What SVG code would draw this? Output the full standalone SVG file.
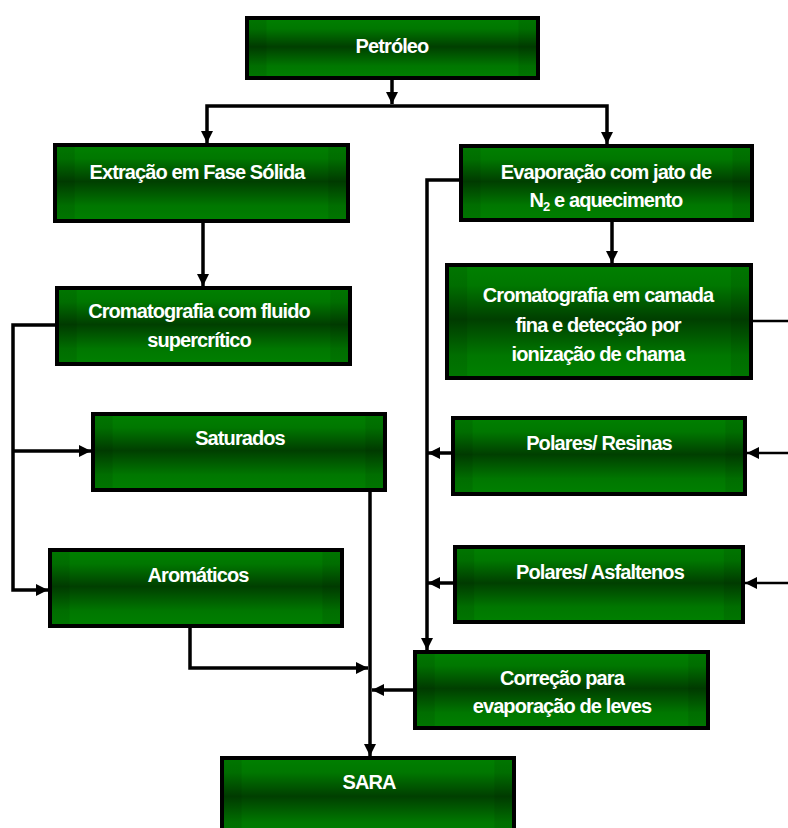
<svg xmlns="http://www.w3.org/2000/svg" width="788" height="828" viewBox="0 0 788 828">
<defs>
<linearGradient id="gv" x1="0" y1="0" x2="0" y2="1">
<stop offset="0" stop-color="#008000"/>
<stop offset="0.18" stop-color="#007700"/>
<stop offset="0.48" stop-color="#003f00"/>
<stop offset="0.8" stop-color="#007700"/>
<stop offset="1" stop-color="#008000"/>
</linearGradient>
<linearGradient id="gh" x1="0" y1="0" x2="1" y2="0">
<stop offset="0" stop-color="#000" stop-opacity="0.08"/>
<stop offset="0.06" stop-color="#000" stop-opacity="0.08"/>
<stop offset="0.062" stop-color="#000" stop-opacity="0"/>
<stop offset="0.938" stop-color="#000" stop-opacity="0"/>
<stop offset="0.94" stop-color="#000" stop-opacity="0.08"/>
<stop offset="1" stop-color="#000" stop-opacity="0.08"/>
</linearGradient>
<marker id="ah" viewBox="0 0 12 12" refX="12" refY="6" markerWidth="12" markerHeight="12" markerUnits="userSpaceOnUse" orient="auto">
<path d="M0,0 L12,6 L0,12 z" fill="#000"/>
</marker>
</defs>
<style>
.box{fill:url(#gv);stroke:#000;stroke-width:4}
.sh{fill:url(#gh);stroke:none}
.t{fill:#fff;font-family:"Liberation Sans",Arial,sans-serif;font-weight:bold;font-size:20px;letter-spacing:-0.9px;text-anchor:middle}
.c{fill:none;stroke:#000;stroke-width:3.5}
.cr{fill:none;stroke:#000;stroke-width:2.5}
.a{marker-end:url(#ah)}
</style>
<rect width="788" height="828" fill="#fff"/>

<g id="connectors">
<path class="c a" d="M392,80 V104"/>
<path class="c a" d="M392,106 H207 V143"/>
<path class="c a" d="M392,106 H607 V144"/>
<path class="c a" d="M203,223 V286"/>
<path class="c a" d="M612,222 V263"/>
<path class="c a" d="M55,325 H13 V590 H48"/>
<path class="c a" d="M13,451 H91"/>
<path class="c a" d="M370,492 V756"/>
<path class="c a" d="M190,628 V668 H368"/>
<path class="c a" d="M413,690 H372"/>
<path class="c a" d="M459,180 H427 V650"/>
<path class="c a" d="M451,453 H428"/>
<path class="c a" d="M453,583 H428"/>
<path class="cr a" d="M753,321 H800 V583 H745"/>
<path class="cr a" d="M800,453 H747"/>
</g>

<g id="petroleo">
<rect class="box" x="247" y="18" width="291" height="60"/>
<rect class="sh" x="249" y="20" width="287" height="56"/>
<text class="t" x="392" y="53">Petróleo</text>
</g>

<g id="extracao">
<rect class="box" x="55" y="145" width="293" height="76"/>
<rect class="sh" x="57" y="147" width="289" height="72"/>
<text class="t" x="197" y="179">Extração em Fase Sólida</text>
</g>

<g id="evaporacao">
<rect class="box" x="461" y="146" width="291" height="74"/>
<rect class="sh" x="463" y="148" width="287" height="70"/>
<text class="t" x="606" y="179">Evaporação com jato de</text>
<text class="t" x="606" y="207">N<tspan font-size="13" dy="4">2</tspan><tspan dy="-4"> e aquecimento</tspan></text>
</g>

<g id="crom_fluido">
<rect class="box" x="57" y="288" width="293" height="76"/>
<rect class="sh" x="59" y="290" width="289" height="72"/>
<text class="t" x="199" y="318">Cromatografia com fluido</text>
<text class="t" x="199" y="347">supercrítico</text>
</g>

<g id="crom_camada">
<rect class="box" x="447" y="265" width="304" height="113"/>
<rect class="sh" x="449" y="267" width="300" height="109"/>
<text class="t" x="598" y="302">Cromatografia em camada</text>
<text class="t" x="598" y="332">fina e detecção por</text>
<text class="t" x="598" y="361">ionização de chama</text>
</g>

<g id="saturados">
<rect class="box" x="93" y="414" width="292" height="76"/>
<rect class="sh" x="95" y="416" width="288" height="72"/>
<text class="t" x="240" y="445">Saturados</text>
</g>

<g id="resinas">
<rect class="box" x="453" y="418" width="292" height="76"/>
<rect class="sh" x="455" y="420" width="288" height="72"/>
<text class="t" x="599" y="450">Polares/ Resinas</text>
</g>

<g id="aromaticos">
<rect class="box" x="50" y="550" width="292" height="76"/>
<rect class="sh" x="52" y="552" width="288" height="72"/>
<text class="t" x="198" y="582">Aromáticos</text>
</g>

<g id="asfaltenos">
<rect class="box" x="455" y="547" width="288" height="75"/>
<rect class="sh" x="457" y="549" width="284" height="71"/>
<text class="t" x="600" y="579">Polares/ Asfaltenos</text>
</g>

<g id="correcao">
<rect class="box" x="415" y="652" width="293" height="76"/>
<rect class="sh" x="417" y="654" width="289" height="72"/>
<text class="t" x="562" y="685">Correção para</text>
<text class="t" x="562" y="713">evaporação de leves</text>
</g>

<g id="sara">
<rect class="box" x="222" y="758" width="292" height="80"/>
<rect class="sh" x="224" y="760" width="288" height="76"/>
<text class="t" x="369" y="789">SARA</text>
</g>
</svg>
